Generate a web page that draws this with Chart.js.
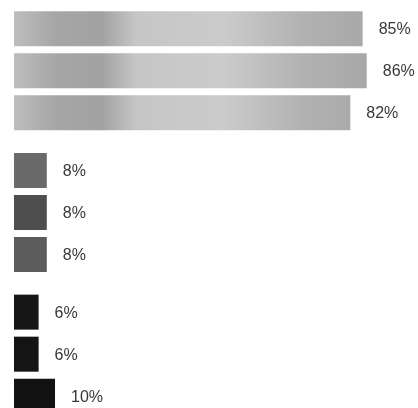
<!DOCTYPE html>
<html>
<head>
<meta charset="utf-8">
<script src="https://cdn.jsdelivr.net/npm/chart.js@4"></script>
<style>
html,body{margin:0;padding:0;background:#fff;overflow:hidden;width:418px;height:408px;}
#wrap{position:absolute;left:0;top:0;width:418px;height:425px;}
</style>
</head>
<body>
<div id="wrap"><canvas id="c"></canvas></div>
<script>
const categories = ['A', 'B', 'C'];
const series1 = [85, 8, 6];
const series2 = [86, 8, 6];
const series3 = [82, 8, 10];
const valueLabels = [
  ['85%', '8%', '6%'],
  ['86%', '8%', '6%'],
  ['82%', '8%', '10%']
];
const groupColors = [
  ['#b4b4b4', '#6a6a6a', '#161616'],
  ['#b0b0b0', '#4e4e4e', '#141414'],
  ['#adadad', '#5c5c5c', '#121212']
];

function fillFor(dsIndex) {
  return function(ctx) {
    const chart = ctx.chart;
    const i = ctx.dataIndex;
    const base = groupColors[dsIndex][i];
    if (i !== 0 || !chart.chartArea) return base;
    const a = chart.chartArea;
    const g = chart.ctx.createLinearGradient(a.left, 0, a.left + 350, 0);
    g.addColorStop(0, '#bdbdbd');
    g.addColorStop(0.12, '#a6a6a6');
    g.addColorStop(0.25, '#a2a2a2');
    g.addColorStop(0.35, '#c6c6c6');
    g.addColorStop(0.6, '#cbcbcb');
    g.addColorStop(0.82, '#b2b2b2');
    g.addColorStop(1, '#a8a8a8');
    return g;
  };
}

const labelPlugin = {
  id: 'valueLabels',
  afterDatasetsDraw(chart) {
    const c = chart.ctx;
    c.save();
    c.font = '16px "Liberation Sans", Arial, sans-serif';
    c.fillStyle = '#383838';
    c.textBaseline = 'middle';
    c.textAlign = 'left';
    chart.data.datasets.forEach((ds, di) => {
      chart.getDatasetMeta(di).data.forEach((el, i) => {
        c.fillText(valueLabels[di][i], el.x + 16, el.y + 1);
      });
    });
    c.restore();
  }
};

new Chart(document.getElementById('c'), {
  type: 'bar',
  data: {
    labels: categories,
    datasets: [
      { data: series1, backgroundColor: fillFor(0) },
      { data: series2, backgroundColor: fillFor(1) },
      { data: series3, backgroundColor: fillFor(2) }
    ]
  },
  options: {
    indexAxis: 'y',
    responsive: true,
    maintainAspectRatio: false,
    animation: false,
    categoryPercentage: 0.89,
    barPercentage: 0.833,
    layout: { padding: { left: 14, right: 0, top: 0, bottom: 0 } },
    plugins: { legend: { display: false }, tooltip: { enabled: false } },
    scales: {
      x: { display: false, min: 0, max: 98.5 },
      y: { display: false }
    }
  },
  plugins: [labelPlugin]
});
</script>
</body>
</html>
